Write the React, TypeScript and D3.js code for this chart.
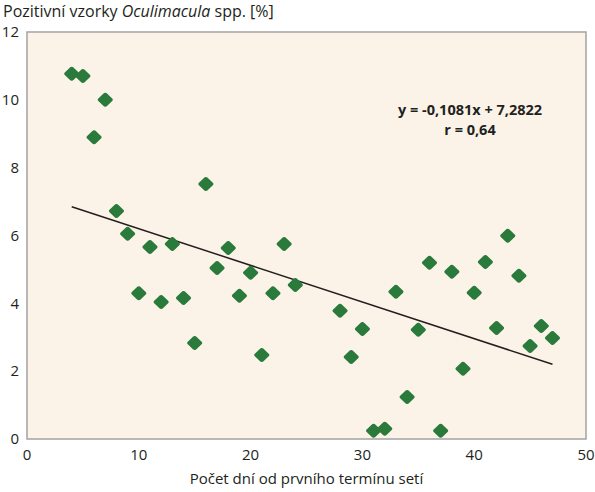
import { useMemo } from "react";
import * as d3 from "d3";

// days since the first sowing date
const days = [4, 5, 6, 7, 8, 9, 10, 11, 12, 13, 14, 15, 16, 17, 18, 19, 20, 21, 22, 23, 24, 28, 29, 30, 31, 32, 33, 34, 35, 36, 37, 38, 39, 40, 41, 42, 43, 44, 45, 46, 47];
// positive samples of Oculimacula spp. [%]
const positive = [10.77, 10.7, 8.9, 10.0, 6.72, 6.05, 4.3, 5.66, 4.04, 5.75, 4.16, 2.83, 7.52, 5.04, 5.63, 4.22, 4.9, 2.48, 4.3, 5.75, 4.54, 3.78, 2.42, 3.24, 0.24, 0.3, 4.34, 1.24, 3.22, 5.2, 0.24, 4.93, 2.07, 4.31, 5.22, 3.27, 5.99, 4.81, 2.74, 3.33, 2.98];

const slope = -0.1081;
const intercept = 7.2822;
const xTicks = [0, 10, 20, 30, 40, 50];
const yTicks = [0, 2, 4, 6, 8, 10, 12];

const W = 595;
const H = 492;
const margin = { top: 32, right: 9, bottom: 53, left: 27 };
const font = "'Open Sans', sans-serif";
const textColor = "#231f20";

export default function App() {
    const innerW = W - margin.left - margin.right;
    const innerH = H - margin.top - margin.bottom;

    const x = useMemo(() => d3.scaleLinear().domain([0, 50]).range([0, innerW]), [innerW]);
    const y = useMemo(() => d3.scaleLinear().domain([0, 12]).range([innerH, 0]), [innerH]);

    const xMin = d3.min(days)!;
    const xMax = d3.max(days)!;
    const trend = d3.line<number>().x(d => x(d)).y(d => y(slope * d + intercept))([xMin, xMax]) ?? "";

    // rounded diamond marker
    const diamond = "M0,-7 Q1.2,-7 2,-6 L7.2,-1 Q8,0 7.2,1 L2,6 Q1.2,7 0,7 Q-1.2,7 -2,6 L-7.2,1 Q-8,0 -7.2,-1 L-2,-6 Q-1.2,-7 0,-7 Z";

    return (
        <svg width={W} height={H} style={{ position: "absolute", left: 0, top: 0, background: "#fff" }} fontFamily={font}>
            <text x={3} y={17} fontSize={16} fill={textColor}>
                Pozitivní vzorky <tspan fontStyle="italic">Oculimacula</tspan> spp. [%]
            </text>
            <g transform={`translate(${margin.left},${margin.top})`}>
                <rect width={innerW} height={innerH} fill="#fcf3e8" stroke="#a3a3a3" strokeWidth={1.5} />
                {yTicks.map(t => (
                    <text key={t} x={-8} y={y(t)} dy="0.35em" textAnchor="end" fontSize={15} fill={textColor}>{t}</text>
                ))}
                {xTicks.map(t => (
                    <text key={t} x={x(t)} y={innerH + 21} textAnchor="middle" fontSize={15} fill={textColor}>{t}</text>
                ))}
                <path d={trend} fill="none" stroke="#231f20" strokeWidth={1.5} />
                {days.map((d, i) => (
                    <path key={i} d={diamond} transform={`translate(${x(d)},${y(positive[i])})`} fill="#2a7a3b" />
                ))}
                <text x={443} y={83} textAnchor="middle" fontSize={14.5} fontWeight="bold" fill={textColor}>
                    y = -0,1081x + 7,2822
                </text>
                <text x={443} y={103} textAnchor="middle" fontSize={14.5} fontWeight="bold" fill={textColor}>
                    r = 0,64
                </text>
            </g>
            <text x={margin.left + innerW / 2} y={484} textAnchor="middle" fontSize={15} fill={textColor}>
                Počet dní od prvního termínu setí
            </text>
        </svg>
    );
}
